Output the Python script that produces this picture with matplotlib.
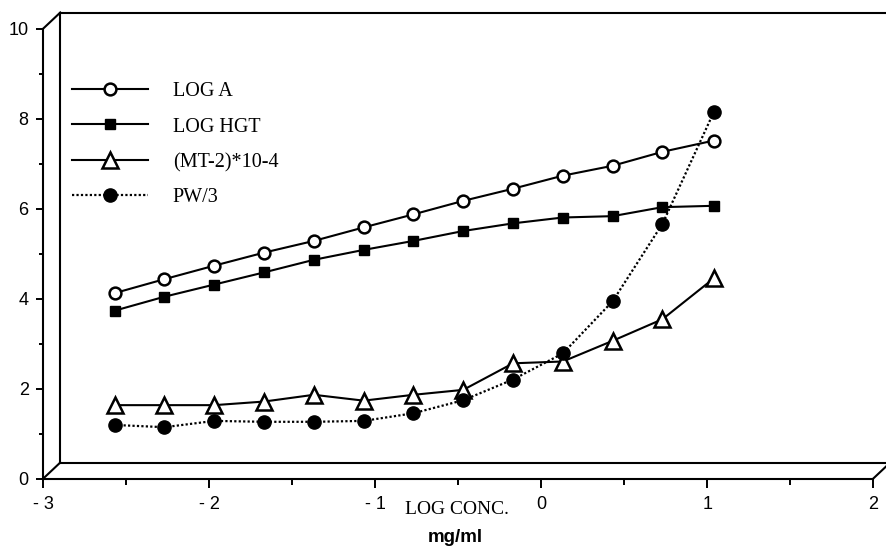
import matplotlib
matplotlib.use("Agg")
import matplotlib.pyplot as plt
from matplotlib.lines import Line2D
from matplotlib.transforms import IdentityTransform, offset_copy

# ---- data ----
log_conc = [-2.57, -2.27, -1.97, -1.67, -1.37, -1.07, -0.77, -0.47, -0.17, 0.13, 0.43, 0.73, 1.04]
log_a = [4.12, 4.43, 4.73, 5.02, 5.28, 5.58, 5.87, 6.17, 6.44, 6.73, 6.95, 7.26, 7.51]
log_hgt = [3.73, 4.04, 4.31, 4.58, 4.86, 5.08, 5.28, 5.50, 5.67, 5.80, 5.83, 6.03, 6.06]
mt_2 = [1.63, 1.63, 1.63, 1.71, 1.86, 1.73, 1.86, 1.97, 2.56, 2.60, 3.06, 3.54, 4.45]
pw_3 = [1.19, 1.14, 1.28, 1.26, 1.26, 1.28, 1.45, 1.74, 2.20, 2.78, 3.94, 5.66, 8.15]
series_labels = ["LOG A", "LOG HGT", "(MT-2)*10-4", "PW/3"]
x_ticks = [-3, -2, -1, 0, 1, 2]
x_ticklabels = ["- 3", "- 2", "- 1", "0", "1", "2"]
y_ticks = [0, 2, 4, 6, 8, 10]
y_ticklabels = ["0", "2", "4", "6", "8", "10"]

W, H, DPI = 886, 548, 100
fig = plt.figure(figsize=(W / DPI, H / DPI), dpi=DPI)
L, R, B, T = 43.3, 873.3, 478.5, 28.5
ax = fig.add_axes([L / W, 1 - B / H, (R - L) / W, (B - T) / H])
ax.set_xlim(-3, 2)
ax.set_ylim(0, 10)
ax.patch.set_visible(False)

sans = "Liberation Sans"
serif = "Liberation Serif"

lw = 1.5
for s in ("top", "right"):
    ax.spines[s].set_visible(False)
for s in ("left", "bottom"):
    ax.spines[s].set_linewidth(lw)

# back wall of the pseudo-3D frame
DX, DY = 17, 16
back = offset_copy(ax.transAxes, fig=fig, x=DX, y=DY, units="dots")
for xy in [((0, 0), (0, 1)), ((0, 1), (1.05, 1)), ((0, 0), (1.05, 0))]:
    ax.add_line(Line2D([xy[0][0], xy[1][0]], [xy[0][1], xy[1][1]], transform=back,
                       color="black", lw=lw, clip_on=False))
fig.canvas.draw()
for corner in [(0, 0), (0, 1), (1, 0)]:
    p = ax.transAxes.transform(corner)
    ax.add_line(Line2D([p[0], p[0] + DX], [p[1], p[1] + DY], transform=IdentityTransform(),
                       color="black", lw=lw, clip_on=False))

# ticks
ax.set_xticks(x_ticks)
ax.set_xticklabels(x_ticklabels, fontfamily=sans, fontsize=13)
ax.set_xticks([-2.5, -1.5, -0.5, 0.5, 1.5], minor=True)
ax.set_yticks(y_ticks)
ax.set_yticklabels(y_ticklabels, fontfamily=sans, fontsize=13)
ax.set_yticks([1, 3, 5, 7, 9], minor=True)
ax.tick_params(axis="x", which="major", direction="out", length=6.5, width=1.4, pad=6)
ax.tick_params(axis="x", which="minor", direction="out", length=4, width=1.4)
ax.tick_params(axis="y", which="major", direction="out", length=5, width=1.4, pad=5.5)
ax.tick_params(axis="y", which="minor", direction="out", length=2.8, width=1.4)

# series
h1, = ax.plot(log_conc, log_a, color="black", lw=1.5, marker="o", ms=8.5,
              mfc="white", mec="black", mew=1.8, clip_on=False, label=series_labels[0])
h2, = ax.plot(log_conc, log_hgt, color="black", lw=1.5, marker="s", ms=6.5,
              mfc="black", mec="black", clip_on=False, label=series_labels[1])
h3, = ax.plot(log_conc, mt_2, color="black", lw=1.5, marker="^", ms=11.5,
              mfc="white", mec="black", mew=1.8, clip_on=False, label=series_labels[2])
h4, = ax.plot(log_conc, pw_3, color="black", lw=1.6, ls=(0, (1, 1)), marker="o", ms=9.5,
              mfc="black", mec="black", clip_on=False, label=series_labels[3])

leg = ax.legend(handles=[h1, h2, h3, h4], loc="upper left",
                bbox_to_anchor=((72 - L) / (R - L), (B - 82) / (B - T)),
                frameon=False, numpoints=1, handlelength=3.75, handletextpad=1.25,
                labelspacing=0.81, borderpad=0, borderaxespad=0,
                prop={"family": serif, "size": 14.5})

# axis labels
fig.text(457 / W, 1 - 510 / H, "LOG CONC.", family=serif, fontsize=14,
         ha="center", va="center")
fig.text(455 / W, 1 - 537 / H, "mg/ml", family=sans, fontsize=13.5, fontweight="bold",
         ha="center", va="center")

fig.savefig("out.png", dpi=DPI)
